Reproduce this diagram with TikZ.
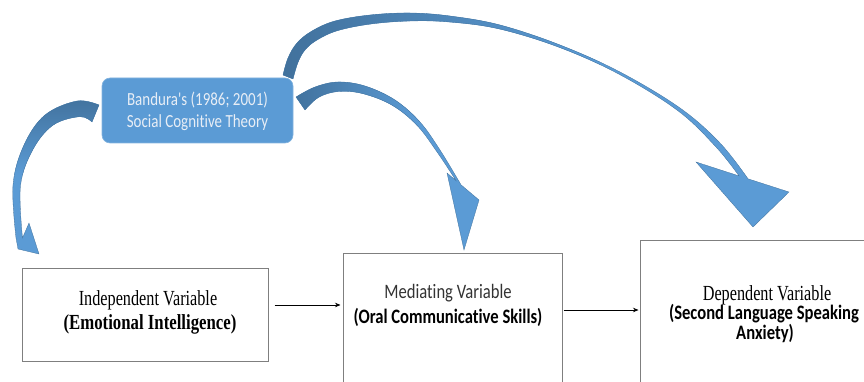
\documentclass[tikz,border=0pt]{standalone}
\usepackage{fontspec}
\setmainfont{Liberation Serif}
\newfontfamily\calfont{Carlito}[Ligatures={NoCommon,NoContextual}]
\usetikzlibrary{arrows.meta,calc}
\definecolor{arrlight}{HTML}{5B9BD5}
\definecolor{arrdark}{HTML}{41719C}
\definecolor{boxgray}{HTML}{7F7F7F}
\definecolor{bandtext}{HTML}{E8EEF6}
\newcommand\sqz[1]{\scalebox{0.81}[1]{#1}}
\newcommand\sqt[1]{\scalebox{0.755}[1]{#1}}
\newcommand\sqtb[1]{\scalebox{0.78}[1]{#1}}
\newcommand\pathLeft{plot[smooth, tension=0.6] coordinates {(99,105) (77,101) (45,115) (24,145) (13,185) (16,238)}
  -- (18,249) -- (39,254) -- (29,223)
  -- plot[smooth, tension=0.6] coordinates {(22.5,238) (20.5,185.6) (33.1,149.2) (53.3,125) (79.9,116.7) (92,122)}
  -- cycle}
\newcommand\pathMid{plot[smooth, tension=0.6] coordinates {(296,97) (315,87) (338,82) (365,86) (395,100) (420,122) (440,150) (461,184.8)}
  -- (479,200) -- (464,250) -- (447,173)
  -- plot[smooth, tension=0.6] coordinates {(456,180.6) (437,151.9) (416.7,125) (391.7,105) (362.6,93.6) (338.2,91.5) (318.7,97.3) (305,110)}
  -- cycle}
\newcommand\pathBig{plot[smooth, tension=0.6] coordinates {(283,75) (288,58) (297,43) (312,31) (335,21) (370,15) (410,13) (450,16) (500,25) (560,45) (620,72) (680,108) (720,143) (748,178.8)}
  -- (789,192) -- (753,227) -- (696,162)
  -- plot[smooth, tension=0.6] coordinates {(739,175.9) (716,147) (678,110.8) (619,74.2) (559.1,47.3) (499,28.9) (449.2,22) (410,21) (371,24) (337.7,30.6) (317,40) (305,50) (298,62.4) (293,79)}
  -- cycle}
\tikzset{
  varbox/.style={draw=boxgray, line width=1pt, inner sep=0pt, fill=white},
  txt/.style={anchor=base, inner sep=0pt},
  theorybox/.style={fill=arrlight, draw=arrlight!75!white, line width=0.6pt, rounded corners=8pt, inner sep=0pt},
  flow/.style={draw=black, line width=0.8pt, -{Stealth[length=5.5pt,width=4.5pt]}},
  bigarrow/.style={draw=arrdark, line width=0.3pt}
}
\begin{document}
\begin{tikzpicture}[x=1pt,y=-1pt]
\useasboundingbox (0,0) rectangle (864,382);
\clip (0,0) rectangle (864,382);
% curved arrows
\begin{scope}
  \clip \pathLeft;
  \fill[arrlight] (0,90) rectangle (110,260);
  \shade[top color=arrdark, bottom color=arrlight] (0,95) rectangle (110,175);
\end{scope}
\draw[bigarrow] \pathLeft;
\begin{scope}
  \clip \pathMid;
  \fill[arrlight] (280,70) rectangle (490,260);
  \shade[left color=arrdark, right color=arrlight] (290,75) rectangle (420,140);
\end{scope}
\draw[bigarrow] \pathMid;
\begin{scope}
  \clip \pathBig;
  \fill[arrlight] (270,0) rectangle (800,240);
  \shade[left color=arrdark, right color=arrlight] (280,0) rectangle (600,90);
\end{scope}
\draw[bigarrow] \pathBig;
% theory box
\node[theorybox, minimum width=191pt, minimum height=65pt] (bandura) at (197.5,110.5) {};
\node[txt, font=\calfont\fontsize{18.5}{22}\selectfont, text=bandtext] (bandA) at (197.5,106) {\sqz{Bandura's (1986; 2001)}};
\node[txt, font=\calfont\fontsize{18.5}{22}\selectfont, text=bandtext] (bandB) at (197.5,128) {\sqz{Social Cognitive Theory}};
% variable boxes
\node[varbox, minimum width=246pt, minimum height=93pt] (ind) at (145,314.5) {};
\node[varbox, minimum width=219pt, minimum height=170pt] (med) at (452.5,338) {};
\node[varbox, minimum width=250pt, minimum height=180pt] (dep) at (765,330) {};
\node[txt, font=\fontsize{21.5}{24}\selectfont] (indA) at (148,305) {\sqt{Independent Variable}};
\node[txt, font=\bfseries\fontsize{21.5}{24}\selectfont] (indB) at (150,329) {\sqtb{(Emotional Intelligence)}};
\node[txt, font=\calfont\fontsize{20.5}{24}\selectfont, text=black!80] (medA) at (448,298) {\sqz{Mediating Variable}};
\node[txt, font=\calfont\bfseries\fontsize{20.5}{24}\selectfont] (medB) at (448,323) {\sqz{(Oral Communicative Skills)}};
\node[txt, font=\fontsize{21.5}{24}\selectfont] (depA) at (767,300) {\sqt{Dependent Variable}};
\node[txt, font=\calfont\bfseries\fontsize{20.5}{24}\selectfont] (depB) at (764,319) {\sqz{(Second Language Speaking}};
\node[txt, font=\calfont\bfseries\fontsize{20.5}{24}\selectfont] (depC) at (765,339) {\sqz{Anxiety)}};
% flow arrows
\draw[flow] ($(ind.east)+(6,-9.5)$) -- ($(ind.east -| med.west)+(-2,-9.5)$);
\draw[flow] ($(med.east)+(1,-28)$) -- ($(med.east -| dep.west)+(-1,-28)$);
\end{tikzpicture}
\end{document}
